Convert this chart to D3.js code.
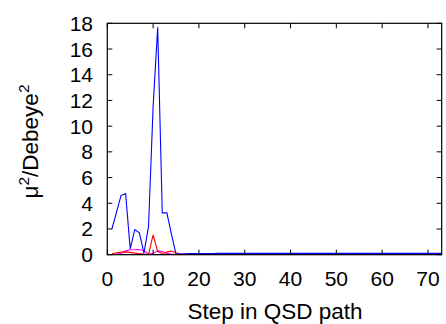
<!DOCTYPE html>
<html>
<head>
<meta charset="utf-8">
<script src="https://cdn.jsdelivr.net/npm/d3@7"></script>
<style>
  html, body { margin: 0; padding: 0; background: #fff; }
  svg { display: block; }
  text { font-family: "Liberation Sans", Arial, sans-serif; fill: #000; }
</style>
</head>
<body>
<script>
// Squared transition dipole components along the QSD path
const steps = d3.range(1, 74);

const xTicks = [0, 10, 20, 30, 40, 50, 60, 70];
const yTicks = [0, 2, 4, 6, 8, 10, 12, 14, 16, 18];

const blueVals = [
  2.0, 3.3, 4.6, 4.75, 0.45, 1.95, 1.7, 0.12, 2.2, 11.5,
  17.7, 3.25, 3.25, 1.6, 0.05, 0.06, 0.07, 0.08, 0.08, 0.08,
  0.09, 0.09, 0.09, 0.1, 0.1, 0.1, 0.1, 0.1, 0.1, 0.1,
  0.1, 0.1, 0.1, 0.1, 0.1, 0.1, 0.1, 0.1, 0.1, 0.1,
  0.1, 0.1, 0.1, 0.1, 0.1, 0.1, 0.1, 0.1, 0.1, 0.1,
  0.1, 0.1, 0.1, 0.1, 0.1, 0.1, 0.1, 0.1, 0.1, 0.1,
  0.1, 0.1, 0.1, 0.1, 0.1, 0.1, 0.1, 0.1, 0.1, 0.1,
  0.1, 0.1, 0.1
];

const redVals = [
  0.08, 0.15, 0.2, 0.22, 0.18, 0.12, 0.08, 0.05, 0.03, 1.55,
  0.25, 0.1, 0.2, 0.28, 0.15, 0.05, 0.04, 0.05, 0.06, 0.05,
  0.04, 0.04, 0.04, 0.04, 0.04, 0.04, 0.04, 0.04, 0.04, 0.04,
  0.04, 0.04, 0.04, 0.04, 0.04, 0.04, 0.04, 0.04, 0.04, 0.04,
  0.04, 0.04, 0.04, 0.04, 0.04, 0.04, 0.04, 0.04, 0.04, 0.04,
  0.04, 0.04, 0.04, 0.04, 0.04, 0.04, 0.04, 0.04, 0.04, 0.04,
  0.04, 0.04, 0.04, 0.04, 0.04, 0.04, 0.04, 0.04, 0.04, 0.04,
  0.04, 0.04, 0.04
];

const magentaVals = [
  0.02, 0.05, 0.1, 0.3, 0.38, 0.38, 0.4, 0.3, 0.05, 0.1,
  0.3, 0.25, 0.1, 0.05, 0.02, 0.01, 0.01, 0.01, 0.01, 0.01,
  0.01, 0.01, 0.01, 0.01, 0.01, 0.01, 0.01, 0.01, 0.01, 0.01,
  0.01, 0.01, 0.01, 0.01, 0.01, 0.01, 0.01, 0.01, 0.01, 0.01,
  0.01, 0.01, 0.01, 0.01, 0.01, 0.01, 0.01, 0.01, 0.01, 0.01,
  0.01, 0.01, 0.01, 0.01, 0.01, 0.01, 0.01, 0.01, 0.01, 0.01,
  0.01, 0.01, 0.01, 0.01, 0.01, 0.01, 0.01, 0.01, 0.01, 0.01,
  0.01, 0.01, 0.01
];

const darkVals = [
  0.02, 0.02, 0.02, 0.02, 0.02, 0.02, 0.02, 0.02, 0.02, 0.02,
  0.02, 0.02, 0.02, 0.02, 0.02, 0.02, 0.02, 0.02, 0.02, 0.02,
  0.02, 0.02, 0.02, 0.02, 0.02, 0.02, 0.02, 0.02, 0.02, 0.02,
  0.02, 0.02, 0.02, 0.02, 0.02, 0.02, 0.02, 0.02, 0.02, 0.02,
  0.02, 0.02, 0.02, 0.02, 0.02, 0.02, 0.02, 0.02, 0.02, 0.02,
  0.02, 0.02, 0.02, 0.02, 0.02, 0.02, 0.02, 0.02, 0.02, 0.02,
  0.02, 0.02, 0.02, 0.02, 0.02, 0.02, 0.02, 0.02, 0.02, 0.02,
  0.02, 0.02, 0.02
];

const series = [
  { values: darkVals, color: "#700040" },
  { values: magentaVals, color: "#ff00ff" },
  { values: redVals, color: "#ff0000" },
  { values: blueVals, color: "#0000ff" }
];

const W = 446, H = 324;
const plotLeft = 107.3, plotRight = 441.7, plotTop = 23.3, plotBottom = 254.7;
const tickFont = 21, titleFont = 22.5;

const svg = d3.select("body").append("svg")
  .attr("width", W).attr("height", H);

const x = d3.scaleLinear().domain([0, 73]).range([plotLeft, plotRight]);
const y = d3.scaleLinear().domain([0, 18]).range([plotBottom, plotTop]);

const line = d3.line()
  .x((d, i) => x(steps[i]))
  .y(d => y(d));

svg.append("clipPath").attr("id", "clip")
  .append("rect").attr("x", plotLeft).attr("y", plotTop)
  .attr("width", plotRight - plotLeft).attr("height", plotBottom - plotTop);

const lines = svg.append("g").attr("clip-path", "url(#clip)");
series.forEach(s => {
  lines.append("path")
    .datum(s.values)
    .attr("d", line)
    .attr("fill", "none")
    .attr("stroke", s.color)
    .attr("stroke-width", 1.1)
    .attr("stroke-linejoin", "miter");
});

// Inward ticks on all four sides
const tickLen = 5;
const ticks = svg.append("g").attr("stroke", "#000").attr("stroke-width", 1);
xTicks.forEach(t => {
  ticks.append("line").attr("x1", x(t)).attr("x2", x(t))
    .attr("y1", plotBottom).attr("y2", plotBottom - tickLen);
  ticks.append("line").attr("x1", x(t)).attr("x2", x(t))
    .attr("y1", plotTop).attr("y2", plotTop + tickLen);
});
yTicks.forEach(t => {
  ticks.append("line").attr("x1", plotLeft).attr("x2", plotLeft + tickLen)
    .attr("y1", y(t)).attr("y2", y(t));
  ticks.append("line").attr("x1", plotRight).attr("x2", plotRight - tickLen)
    .attr("y1", y(t)).attr("y2", y(t));
});

// Frame
svg.append("rect")
  .attr("x", plotLeft).attr("y", plotTop)
  .attr("width", plotRight - plotLeft).attr("height", plotBottom - plotTop)
  .attr("fill", "none").attr("stroke", "#000").attr("stroke-width", 1.2);

// Tick labels
svg.append("g").selectAll("text").data(xTicks).join("text")
  .attr("x", d => x(d)).attr("y", 286)
  .attr("text-anchor", "middle")
  .attr("font-size", tickFont)
  .text(d => d);

svg.append("g").selectAll("text").data(yTicks).join("text")
  .attr("x", 93).attr("y", d => y(d) + 7.5)
  .attr("text-anchor", "end")
  .attr("font-size", tickFont)
  .text(d => d);

// Axis titles
svg.append("text")
  .attr("x", 275).attr("y", 319)
  .attr("text-anchor", "middle")
  .attr("font-size", titleFont)
  .text("Step in QSD path");

const yl = svg.append("text")
  .attr("transform", "translate(38,141.5) rotate(-90)")
  .attr("text-anchor", "middle")
  .attr("font-size", titleFont);
yl.append("tspan").text("μ");
yl.append("tspan").attr("dy", -9).attr("font-size", 15.5).text("2");
yl.append("tspan").attr("dy", 9).text("/Debeye");
yl.append("tspan").attr("dy", -9).attr("font-size", 15.5).text("2");
</script>
</body>
</html>
